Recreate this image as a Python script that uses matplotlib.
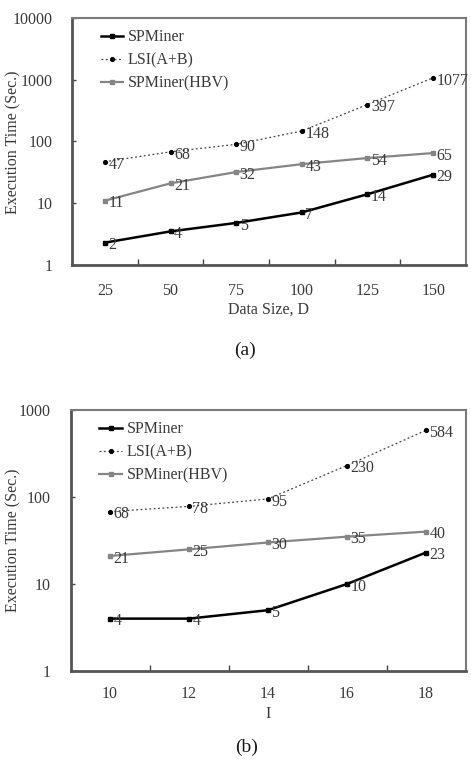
import matplotlib
matplotlib.use("Agg")
import matplotlib.pyplot as plt
import numpy as np

plt.rcParams['font.family'] = ['Liberation Serif', 'DejaVu Serif']

# ---- data (a) ----
a_cats = ["25", "50", "75", "100", "125", "150"]
a_spminer = [2.3, 3.5, 4.8, 7.1, 14, 29]
a_spminer_lbl = ["2", "4", "5", "7", "14", "29"]
a_lsi = [47, 68, 90, 148, 397, 1077]
a_lsi_lbl = ["47", "68", "90", "148", "397", "1077"]
a_hbv = [11, 21, 32, 43, 54, 65]
a_hbv_lbl = ["11", "21", "32", "43", "54", "65"]
a_yticks = [1, 10, 100, 1000, 10000]

# ---- data (b) ----
b_cats = ["10", "12", "14", "16", "18"]
b_spminer = [4, 4, 5, 10, 23]
b_spminer_lbl = ["4", "4", "5", "10", "23"]
b_lsi = [68, 78, 95, 230, 584]
b_lsi_lbl = ["68", "78", "95", "230", "584"]
b_hbv = [21, 25, 30, 35, 40]
b_hbv_lbl = ["21", "25", "30", "35", "40"]
b_yticks = [1, 10, 100, 1000]

series_names = ["SPMiner", "LSI(A+B)", "SPMiner(HBV)"]

W, H = 471, 767
fig = plt.figure(figsize=(W / 100, H / 100), dpi=100)

txt_col = "#3a3a3a"
FS = 11.5


def make_panel(rect, cats, sp, sp_l, lsi, lsi_l, hbv, hbv_l, yticks, ylim, pad, anchor):
    ax = fig.add_axes(rect)
    x = np.arange(len(cats))
    ax.plot(x, sp, color="black", lw=1.8, marker="s", ms=3.3, label=series_names[0])
    ax.plot(x, lsi, color="#444444", lw=0.9, ls=(0, (1.5, 2.0)), marker="o", ms=2.7,
            mfc="black", mec="black", label=series_names[1])
    ax.plot(x, hbv, color="#858585", lw=1.6, marker="s", ms=3.2, label=series_names[2])
    for xs, ys, ls_ in ((x, sp, sp_l), (x, lsi, lsi_l), (x, hbv, hbv_l)):
        for xi, yi, t in zip(xs, ys, ls_):
            ax.annotate(t, (xi, yi), xytext=(2.5, -2), textcoords="offset points",
                        ha="left", va="center", fontsize=FS, color=txt_col)
    ax.set_yscale("log")
    ax.set_ylim(*ylim)
    ax.set_xlim(-0.5, len(cats) - 0.5)
    ax.set_yticks(yticks)
    ax.set_yticklabels([str(v) for v in yticks])
    ax.yaxis.set_minor_locator(matplotlib.ticker.NullLocator())
    ax.tick_params(axis="y", direction="in", length=3, width=1, color="#444444",
                   labelsize=FS, labelcolor=txt_col, pad=14)
    ax.set_xticks(x)
    ax.set_xticklabels(cats)
    ax.tick_params(axis="x", which="major", length=0, labelsize=FS, labelcolor=txt_col, pad=pad)
    ax.set_xticks(np.arange(0.5, len(cats) - 0.5, 1.0), minor=True)
    ax.tick_params(axis="x", which="minor", direction="in", length=4, width=1, color="#444444")
    for s in ("left", "bottom"):
        ax.spines[s].set_color("#555555")
        ax.spines[s].set_linewidth(2.0)
    for s in ("top", "right"):
        ax.spines[s].set_color("#7a7a7a")
        ax.spines[s].set_linewidth(1.5)
    leg = ax.legend(loc="upper left", frameon=False, fontsize=FS, handlelength=1.4,
                    handletextpad=0.3, labelspacing=0.45, borderaxespad=0.3,
                    bbox_to_anchor=anchor)
    for t in leg.get_texts():
        t.set_color(txt_col)
    return ax


ax1 = make_panel([72 / W, (H - 265) / H, 394 / W, 247 / H], a_cats, a_spminer, a_spminer_lbl,
                 a_lsi, a_lsi_lbl, a_hbv, a_hbv_lbl, a_yticks, (1, 10000), 13, (0.045, 1.0))
ax2 = make_panel([70.5 / W, (H - 671) / H, 395 / W, 261 / H], b_cats, b_spminer, b_spminer_lbl,
                 b_lsi, b_lsi_lbl, b_hbv, b_hbv_lbl, b_yticks, (1, 1000), 11, (0.045, 1.0))

fig.text(268 / W, 1 - 310 / H, "Data Size, D", ha="center", va="center", fontsize=FS, color=txt_col)
fig.text(268 / W, 1 - 714 / H, "I", ha="center", va="center", fontsize=FS, color=txt_col)
fig.text(13 / W, 1 - 142 / H, "Execution Time (Sec.)", rotation=90, ha="center", va="center",
         fontsize=FS, color=txt_col)
fig.text(13 / W, 1 - 540 / H, "Execution Time (Sec.)", rotation=90, ha="center", va="center",
         fontsize=FS, color=txt_col)
fig.text(245 / W, 1 - 350 / H, "(a)", ha="center", va="center", fontsize=14, color="#1a1a1a")
fig.text(247 / W, 1 - 747 / H, "(b)", ha="center", va="center", fontsize=14, color="#1a1a1a")

fig.savefig("out.png", dpi=100)
